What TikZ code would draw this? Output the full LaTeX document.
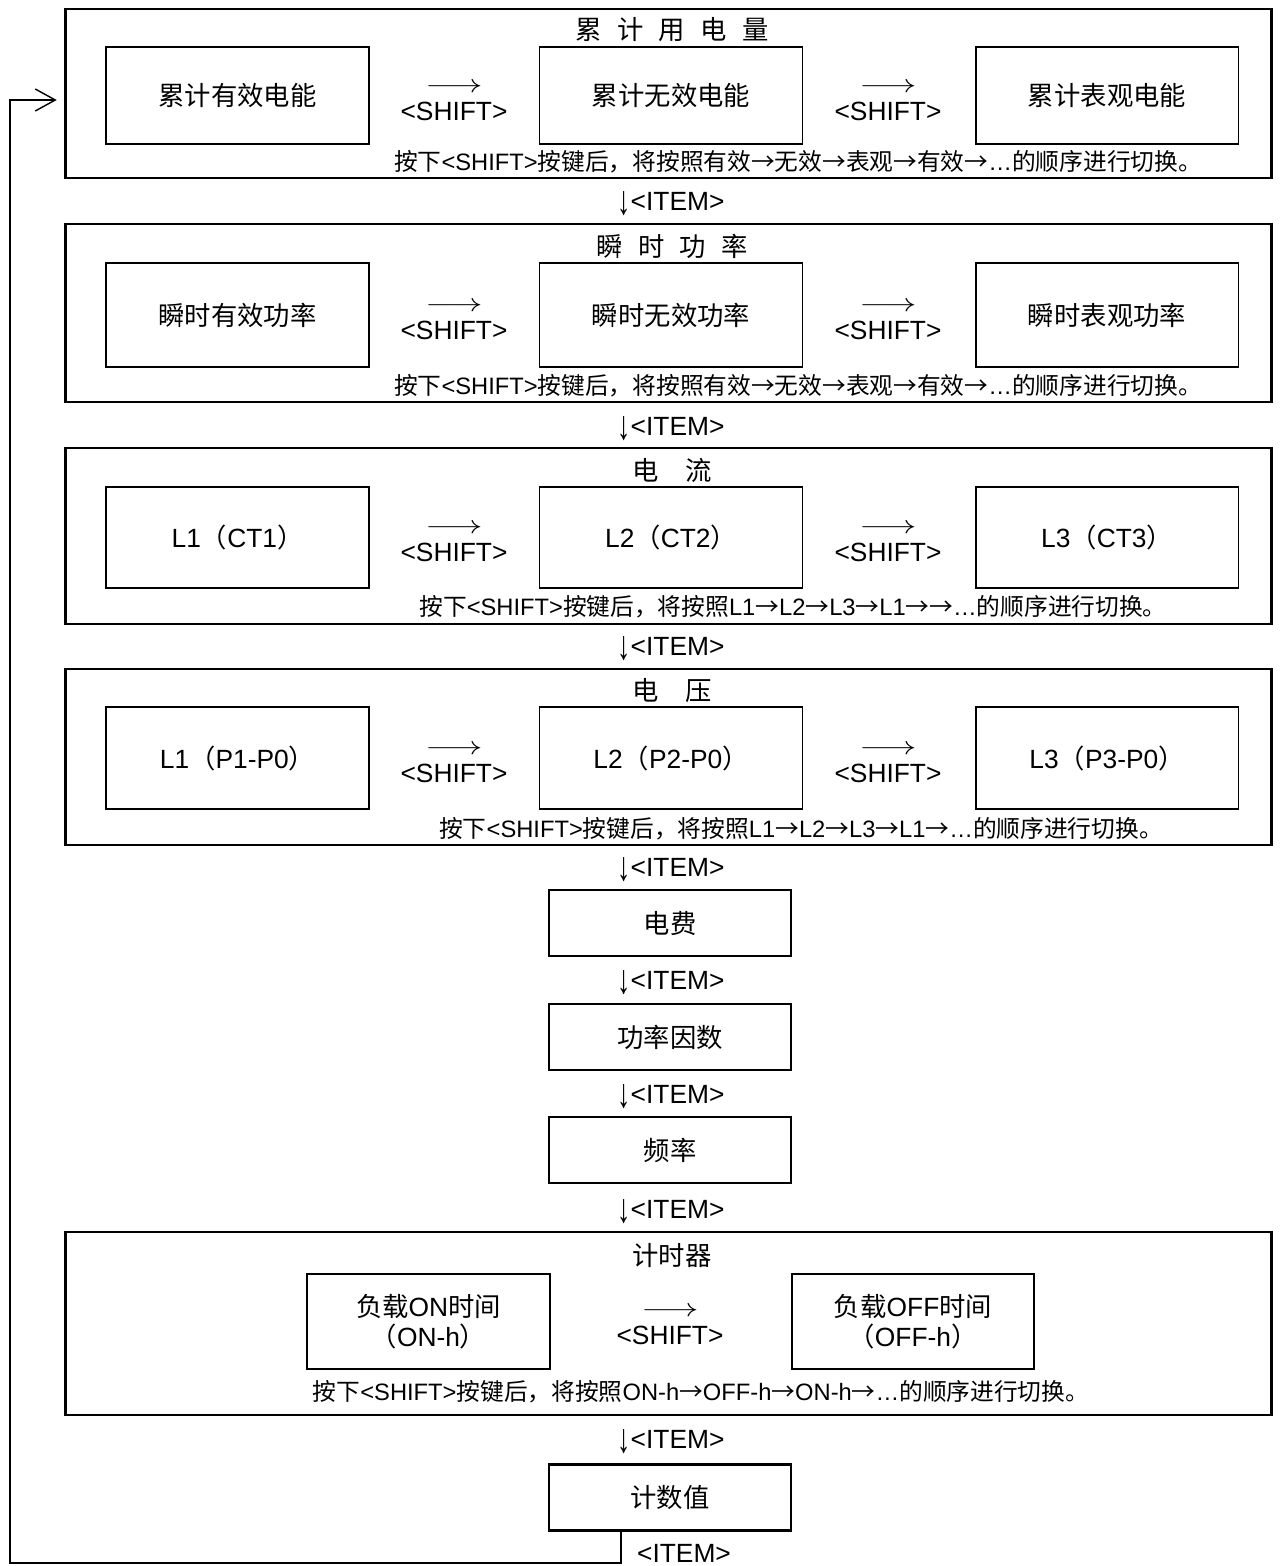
\documentclass[tikz,border=0pt]{standalone}
\usepackage{fontspec}
\setmainfont{Liberation Sans}
\newfontfamily\cjk{Noto Sans CJK SC}
\usetikzlibrary{arrows.meta, positioning}
\newcommand{\gp}{\hspace{.58em}}
\newcommand{\ra}{{\cjk →}}
\newcommand{\dn}{\raisebox{-0.18em}{\scalebox{1}[1.55]{↓}}}
\newcommand{\shiftarrow}{\scalebox{1.4}[1]{$\longrightarrow$}\\<SHIFT>}

\begin{document}
\begin{tikzpicture}[x=0.02cm, y=-0.02cm, font=\fontsize{15}{17}\selectfont]
    \tikzstyle{groupbox} = [rectangle, draw, line width=1.6pt, minimum width=24.14cm]
    \tikzstyle{itembox} = [rectangle, draw, line width=1.1pt, minimum width=5.26cm, text centered, align=center]
    \tikzstyle{smallbox} = [rectangle, draw, line width=1.6pt, minimum width=4.84cm, minimum height=1.32cm]
    \tikzstyle{notetext} = [font=\fontsize{13.5}{15}\selectfont]
    \tikzstyle{shiftlbl} = [align=center, font=\fontsize{15}{15.5}\selectfont]
    \useasboundingbox (0,0) rectangle (1279,1566);

    % Group 1
    \node[groupbox, minimum height=3.38cm] (acc) at (668.5,93.5) {};
    \node (acctitle) at (672,30) {\cjk 累\gp 计\gp 用\gp 电\gp 量};
    \node[itembox, minimum height=1.94cm] (accp) at (237.5,95.5) {\cjk 累计有效电能};
    \node[itembox, minimum height=1.94cm] (accq) at (671,95.5) {\cjk 累计无效电能};
    \node[itembox, minimum height=1.94cm] (accs) at (1107,95.5) {\cjk 累计表观电能};
    \node[shiftlbl] (accsh1) at (454,102) {\shiftarrow};
    \node[shiftlbl] (accsh2) at (888,102) {\shiftarrow};
    \node[notetext] (accnote) at (798,162) {{\cjk 按下}<SHIFT>{\cjk 按键后，将按照有效}\ra{\cjk 无效}\ra{\cjk 表观}\ra{\cjk 有效}\ra…{\cjk 的顺序进行切换。}};

    % Group 2
    \node[groupbox, minimum height=3.56cm] (pow) at (668.5,313) {};
    \node (powtitle) at (672,246) {\cjk 瞬\gp 时\gp 功\gp 率};
    \node[itembox, minimum height=2.08cm] (powp) at (237.5,315) {\cjk 瞬时有效功率};
    \node[itembox, minimum height=2.08cm] (powq) at (671,315) {\cjk 瞬时无效功率};
    \node[itembox, minimum height=2.08cm] (pows) at (1107,315) {\cjk 瞬时表观功率};
    \node[shiftlbl] (powsh1) at (454,321) {\shiftarrow};
    \node[shiftlbl] (powsh2) at (888,321) {\shiftarrow};
    \node[notetext] (pownote) at (798,386) {{\cjk 按下}<SHIFT>{\cjk 按键后，将按照有效}\ra{\cjk 无效}\ra{\cjk 表观}\ra{\cjk 有效}\ra…{\cjk 的顺序进行切换。}};

    % Group 3
    \node[groupbox, minimum height=3.52cm] (cur) at (668.5,536) {};
    \node (curtitle) at (672,470) {\cjk 电　流};
    \node[itembox, minimum height=2.02cm] (cur1) at (237.5,537.5) {L1{\cjk （}CT1{\cjk ）}};
    \node[itembox, minimum height=2.02cm] (cur2) at (671,537.5) {L2{\cjk （}CT2{\cjk ）}};
    \node[itembox, minimum height=2.02cm] (cur3) at (1107,537.5) {L3{\cjk （}CT3{\cjk ）}};
    \node[shiftlbl] (cursh1) at (454,543) {\shiftarrow};
    \node[shiftlbl] (cursh2) at (888,543) {\shiftarrow};
    \node[notetext] (curnote) at (793,607) {{\cjk 按下}<SHIFT>{\cjk 按键后，将按照}L1\ra L2\ra L3\ra L1\ra\ra…{\cjk 的顺序进行切换。}};

    % Group 4
    \node[groupbox, minimum height=3.52cm] (vol) at (668.5,757) {};
    \node (voltitle) at (672,690) {\cjk 电　压};
    \node[itembox, minimum height=2.04cm] (vol1) at (237.5,758) {L1{\cjk （}P1-P0{\cjk ）}};
    \node[itembox, minimum height=2.04cm] (vol2) at (671,758) {L2{\cjk （}P2-P0{\cjk ）}};
    \node[itembox, minimum height=2.04cm] (vol3) at (1107,758) {L3{\cjk （}P3-P0{\cjk ）}};
    \node[shiftlbl] (volsh1) at (454,764) {\shiftarrow};
    \node[shiftlbl] (volsh2) at (888,764) {\shiftarrow};
    \node[notetext] (volnote) at (801,829) {{\cjk 按下}<SHIFT>{\cjk 按键后，将按照}L1\ra L2\ra L3\ra L1\ra…{\cjk 的顺序进行切换。}};

    % single screens
    \node[smallbox] (fee) at (670,923) {\cjk 电费};
    \node[smallbox] (pf) at (670,1037) {\cjk 功率因数};
    \node[smallbox] (freq) at (670,1150) {\cjk 频率};

    % Group 5
    \node[groupbox, minimum height=3.66cm] (tim) at (668.5,1323.5) {};
    \node (timtitle) at (672,1256) {\cjk 计时器};
    \node[itembox, minimum width=4.86cm, minimum height=1.9cm] (timon) at (428.5,1321.5) {{\cjk 负载}ON{\cjk 时间}\\{\cjk （}ON-h{\cjk ）}};
    \node[itembox, minimum width=4.84cm, minimum height=1.9cm] (timoff) at (913,1321.5) {{\cjk 负载}OFF{\cjk 时间}\\{\cjk （}OFF-h{\cjk ）}};
    \node[shiftlbl] (timsh) at (670,1326) {\shiftarrow};
    \node[notetext] (timnote) at (701,1392) {{\cjk 按下}<SHIFT>{\cjk 按键后，将按照}ON-h\ra OFF-h\ra ON-h\ra…{\cjk 的顺序进行切换。}};

    \node[smallbox] (count) at (670,1497.5) {\cjk 计数值};

    % <ITEM> steps
    \foreach \y [count=\i] in {204,429,649,870,983,1097,1212,1442}
        \node (itemlbl\i) at (671,\y) {\dn<ITEM>};

    % back to the top
    \coordinate (loopturn) at (10,1563);
    \draw[line width=0.8pt, -{Straight Barb[length=0.4cm,width=0.44cm]}]
        ([xshift=-0.98cm]count.south) |- (loopturn) |- ([shift={(-0.14cm,-0.13cm)}]acc.west);
    \node (itemlast) at (684,1553) {<ITEM>};
\end{tikzpicture}
\end{document}
